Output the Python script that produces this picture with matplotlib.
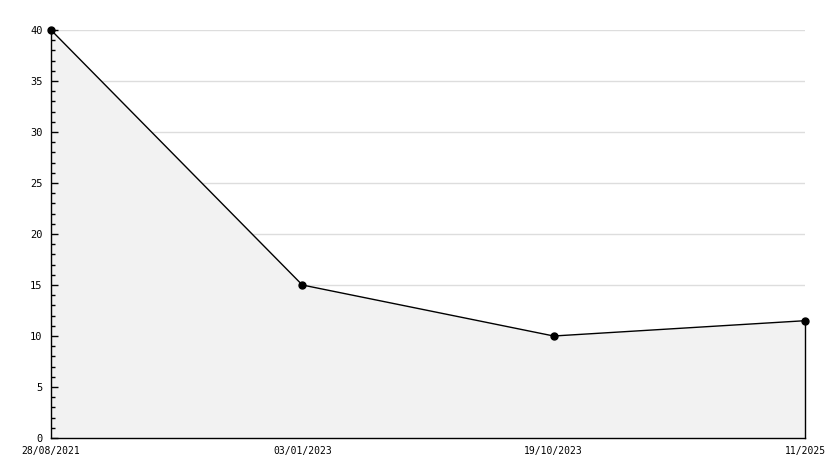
import matplotlib
matplotlib.use("Agg")
import matplotlib.pyplot as plt
from matplotlib.ticker import MultipleLocator

dates = ["28/08/2021", "03/01/2023", "19/10/2023", "11/2025"]
values = [40, 15, 10, 11.5]

W, H = 834, 468
fig = plt.figure(figsize=(W / 100, H / 100), dpi=100)
ax = fig.add_axes([51 / W, 30 / H, (805 - 51) / W, (438 - 30) / H])

xs = list(range(len(dates)))
ax.set_xlim(0, len(dates) - 1)
ax.set_ylim(0, 40)

# grid under the filled area
for y in range(5, 41, 5):
    ax.axhline(y, color="#dddddd", lw=1, zorder=0.2)

ax.fill_between(xs, values, 0, color="#f2f2f2", lw=0, zorder=0.5)
ax.plot([xs[-1], xs[-1]], [0, values[-1]], color="black", lw=1, zorder=3,
        clip_on=False)
ax.plot(xs, values, color="black", lw=1, marker="o", ms=5, zorder=4,
        clip_on=False)

ax.set_xticks(xs)
ax.set_xticklabels(dates)
ax.yaxis.set_major_locator(MultipleLocator(5))
ax.yaxis.set_minor_locator(MultipleLocator(1))

for s in ("top", "right"):
    ax.spines[s].set_visible(False)
for s in ("left", "bottom"):
    ax.spines[s].set_color("black")
    ax.spines[s].set_linewidth(1)
    ax.spines[s].set_zorder(2.5)

ax.tick_params(axis="y", which="major", direction="in", length=5, width=1,
               labelsize=7.5, pad=6)
ax.tick_params(axis="y", which="minor", direction="in", length=3, width=1)
ax.tick_params(axis="x", length=0, labelsize=7, pad=6)
for lbl in ax.get_xticklabels() + ax.get_yticklabels():
    lbl.set_family("DejaVu Sans Mono")

fig.savefig("out.png", dpi=100, facecolor="white")
